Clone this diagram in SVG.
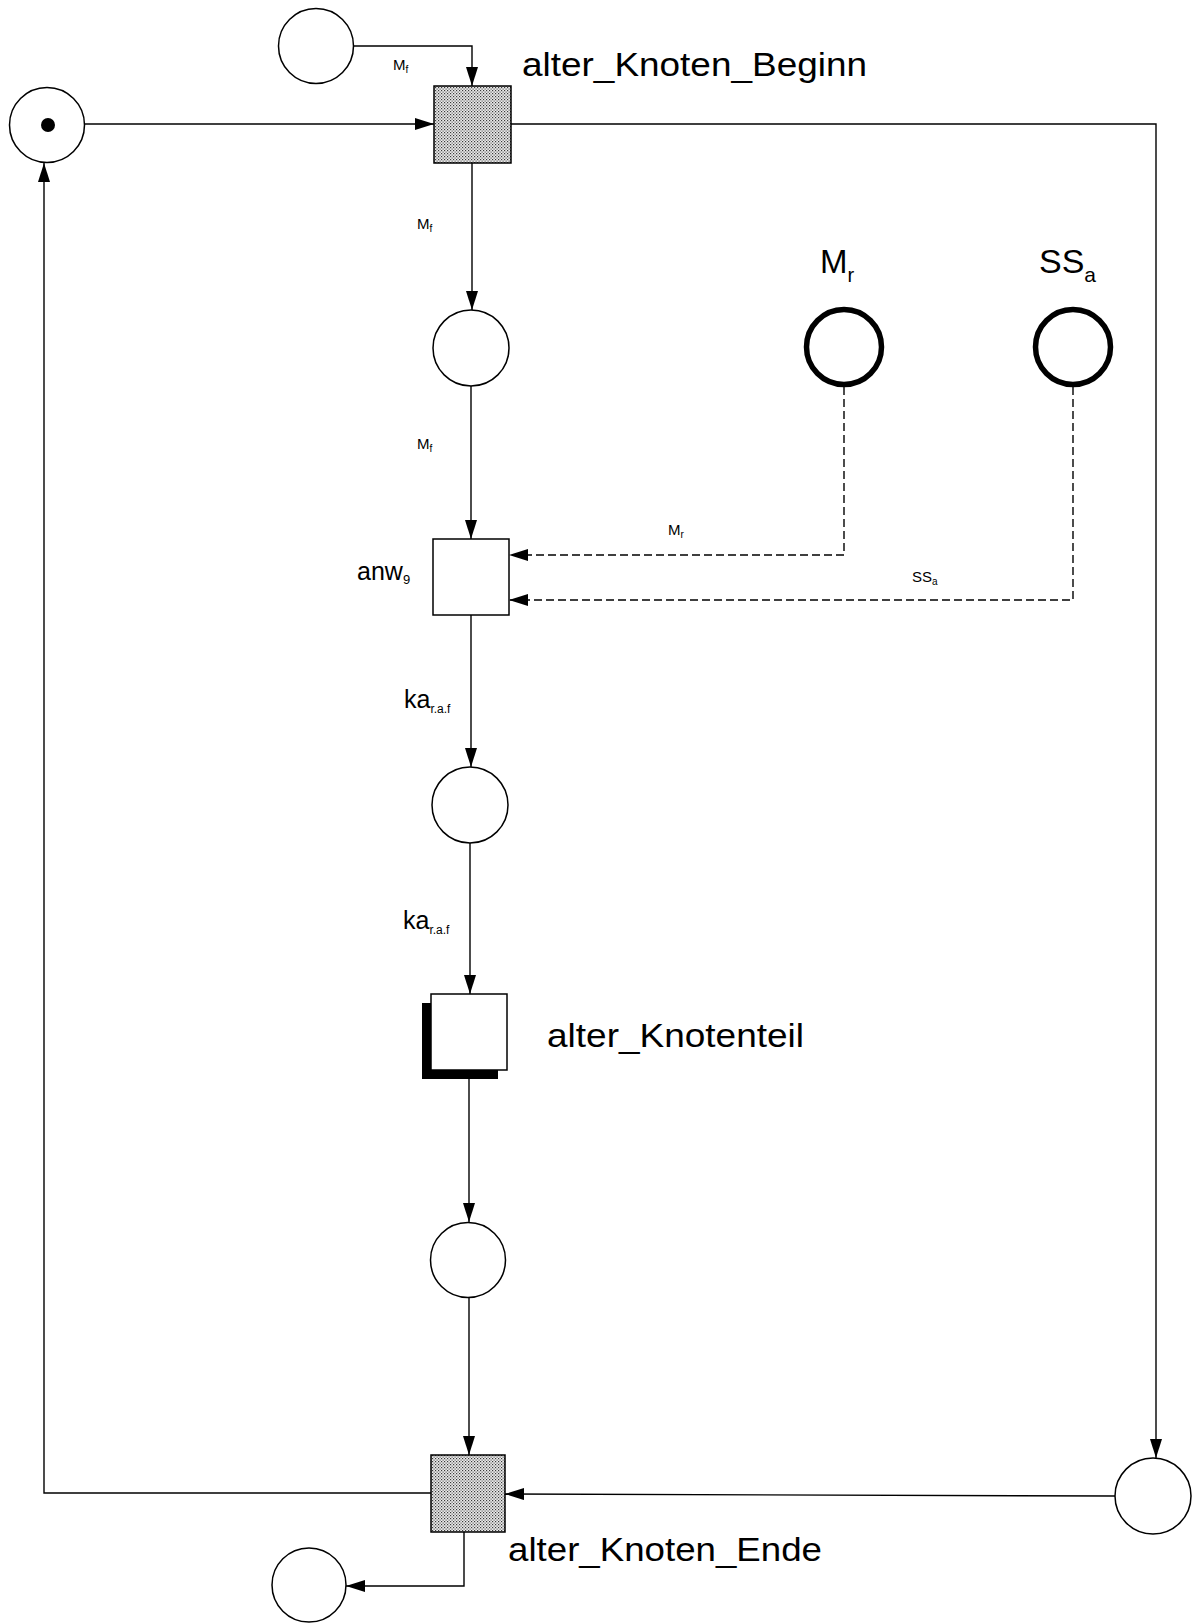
<svg xmlns="http://www.w3.org/2000/svg" width="1193" height="1623" viewBox="0 0 1193 1623">
<style>
.c{fill:none;stroke:#000;stroke-width:1.4}
.dash{stroke-dasharray:8 4}
.pl{fill:#fff;stroke:#000;stroke-width:1.5}
.plb{fill:#fff;stroke:#000;stroke-width:5.5}
.tr{fill:#fff;stroke:#000;stroke-width:1.5}
.trh{fill:url(#dots);stroke:#000;stroke-width:1.5}
text{font-family:"Liberation Sans",Arial,Helvetica,sans-serif;fill:#000}
.big{font-size:33px}
.sm{font-size:15px}
.sub{font-size:10px}
</style>
<defs>
<pattern id="dots" width="3" height="3" patternUnits="userSpaceOnUse">
<rect width="3" height="3" fill="#ececec"/>
<rect x="0" y="0" width="1.2" height="1.2" fill="#3a3a3a"/>
<rect x="1.5" y="1.5" width="1.2" height="1.2" fill="#5a5a5a"/>
</pattern>
<marker id="ar" markerWidth="19" markerHeight="12" refX="19" refY="6" orient="auto" markerUnits="userSpaceOnUse">
<path d="M0,0 L19,6 L0,12 Z" fill="#000"/>
</marker>
</defs>

<g id="connectors">
<path class="c" d="M353,46 H472 V86" marker-end="url(#ar)"/>
<path class="c" d="M85,124 H434" marker-end="url(#ar)"/>
<path class="c" d="M472,163 V310" marker-end="url(#ar)"/>
<path class="c" d="M471,386 V539" marker-end="url(#ar)"/>
<path class="c" d="M471,615 V767" marker-end="url(#ar)"/>
<path class="c" d="M470,843 V994" marker-end="url(#ar)"/>
<path class="c" d="M469,1079 V1222" marker-end="url(#ar)"/>
<path class="c" d="M469,1298 V1455" marker-end="url(#ar)"/>
<path class="c" d="M511,124 H1156 V1458" marker-end="url(#ar)"/>
<path class="c" d="M1115,1496 L505,1494" marker-end="url(#ar)"/>
<path class="c" d="M431,1493 H44 V163" marker-end="url(#ar)"/>
<path class="c" d="M464,1532 V1586 H346" marker-end="url(#ar)"/>
<path class="c dash" d="M844,387 V555 H509" marker-end="url(#ar)"/>
<path class="c dash" d="M1073,387 V600 H509" marker-end="url(#ar)"/>
<text class="sm" x="393" y="70">M<tspan class="sub" y="73">f</tspan></text>
<text class="sm" x="417" y="229">M<tspan class="sub" y="232">f</tspan></text>
<text class="sm" x="417" y="449">M<tspan class="sub" y="452">f</tspan></text>
<text class="sm" x="668" y="535">M<tspan class="sub" y="538">r</tspan></text>
<text class="sm" x="912" y="582">SS<tspan class="sub" y="585">a</tspan></text>
<text x="404" y="708" font-size="25">ka<tspan font-size="12" y="713">r.a.f</tspan></text>
<text x="403" y="929" font-size="25">ka<tspan font-size="12" y="934">r.a.f</tspan></text>
</g>

<g id="p_top"><circle class="pl" cx="316" cy="46" r="37.5"/></g>
<g id="p_marked"><circle class="pl" cx="47" cy="125" r="37.5"/><circle cx="48" cy="125" r="7" fill="#000"/></g>
<g id="t_beginn"><rect class="trh" x="434" y="86" width="77" height="77"/>
<text class="big" x="522" y="76" textLength="345" lengthAdjust="spacingAndGlyphs">alter_Knoten_Beginn</text></g>
<g id="p1"><circle class="pl" cx="471" cy="348" r="38"/></g>
<g id="p_Mr"><circle class="plb" cx="844" cy="347" r="37.5"/>
<text x="820" y="273" font-size="33">M<tspan font-size="20" y="282">r</tspan></text></g>
<g id="p_SSa"><circle class="plb" cx="1073" cy="347" r="37.5"/>
<text x="1039" y="273" font-size="34">SS<tspan font-size="21" y="282">a</tspan></text></g>
<g id="t_anw9"><rect class="tr" x="433" y="539" width="76" height="76"/>
<text x="357" y="580" font-size="25">anw<tspan font-size="13" y="584">9</tspan></text></g>
<g id="p2"><circle class="pl" cx="470" cy="805" r="38"/></g>
<g id="t_knotenteil"><rect x="422" y="1003" width="76" height="76" fill="#000"/>
<rect class="tr" x="431" y="994" width="76" height="76"/>
<text class="big" x="547" y="1047" textLength="257" lengthAdjust="spacingAndGlyphs">alter_Knotenteil</text></g>
<g id="p3"><circle class="pl" cx="468" cy="1260" r="37.5"/></g>
<g id="t_ende"><rect class="trh" x="431" y="1455" width="74" height="77"/>
<text class="big" x="508" y="1561" textLength="314" lengthAdjust="spacingAndGlyphs">alter_Knoten_Ende</text></g>
<g id="p_right"><circle class="pl" cx="1153" cy="1496" r="38"/></g>
<g id="p_out"><circle class="pl" cx="309" cy="1585" r="37"/></g>
</svg>
